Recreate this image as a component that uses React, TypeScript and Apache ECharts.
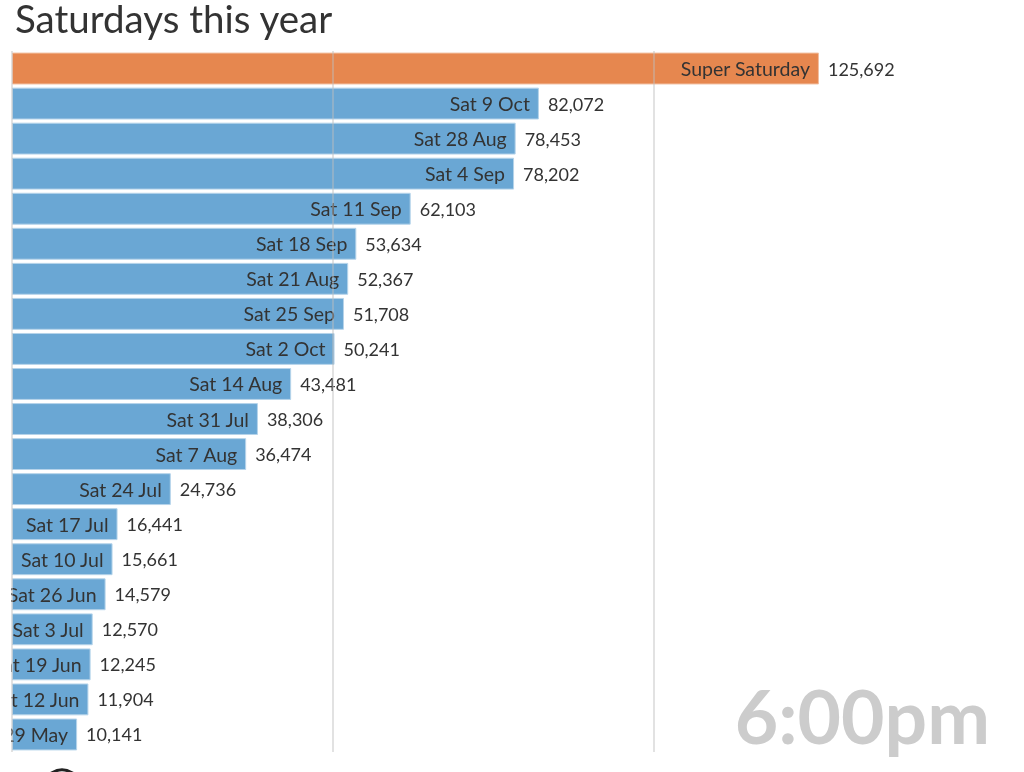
import React, { useEffect, useRef } from "react";
import * as echarts from "echarts";

const categories = [
  "Super Saturday",
  "Sat 9 Oct",
  "Sat 28 Aug",
  "Sat 4 Sep",
  "Sat 11 Sep",
  "Sat 18 Sep",
  "Sat 21 Aug",
  "Sat 25 Sep",
  "Sat 2 Oct",
  "Sat 14 Aug",
  "Sat 31 Jul",
  "Sat 7 Aug",
  "Sat 24 Jul",
  "Sat 17 Jul",
  "Sat 10 Jul",
  "Sat 26 Jun",
  "Sat 3 Jul",
  "Sat 19 Jun",
  "Sat 12 Jun",
  "Sat 29 May",
];

const values = [
  125692, 82072, 78453, 78202, 62103, 53634, 52367, 51708, 50241, 43481,
  38306, 36474, 24736, 16441, 15661, 14579, 12570, 12245, 11904, 10141,
];

const gridValues = [0, 50000, 100000];

const highlight = "Super Saturday";
const timeLabel = "6:00pm";

const FONT = "Lato, 'Noto Sans', sans-serif";

const App: React.FC = () => {
  const chartRef = useRef<HTMLDivElement>(null);

  useEffect(() => {
    if (!chartRef.current) return;
    const chart = echarts.init(chartRef.current, undefined, { renderer: "svg" });

    const barData = values.map((v, i) => ({
      value: v,
      itemStyle: {
        color: categories[i] === highlight ? "#E6874F" : "#6AA7D4",
        borderColor: categories[i] === highlight ? "#F2BFA0" : "#B6D4EA",
      },
    }));

    chart.setOption({
      animation: false,
      textStyle: { fontFamily: FONT },
      title: {
        text: "Saturdays this year",
        left: 10,
        top: -7,
        textStyle: { fontFamily: FONT, fontSize: 38.5, fontWeight: "normal", color: "#333" },
      },
      grid: { left: 12, top: 51, width: 963, bottom: 20, containLabel: false },
      xAxis: {
        type: "value",
        min: 0,
        max: 150000,
        interval: 50000,
        axisLabel: { show: false },
        axisLine: { show: false },
        axisTick: { show: false },
        splitLine: { show: false },
      },
      yAxis: {
        type: "category",
        data: categories,
        inverse: true,
        axisLabel: { show: false },
        axisLine: { show: false },
        axisTick: { show: false },
      },
      series: [
        {
          type: "bar",
          data: barData,
          barCategoryGap: "9%",
          itemStyle: { borderWidth: 1 },
          label: {
            show: true,
            position: "right",
            distance: 9,
            fontFamily: FONT,
            fontSize: 18,
            color: "#333",
            formatter: (p: any) => p.value.toLocaleString("en-US"),
          },
          markLine: {
            silent: true,
            symbol: "none",
            z: 10,
            label: { show: false },
            lineStyle: { color: "rgba(190,190,190,0.6)", width: 1.5, type: "solid" },
            data: gridValues.map((g) => ({ xAxis: g })),
          },
        },
        {
          type: "bar",
          data: values,
          barGap: "-100%",
          barCategoryGap: "9%",
          itemStyle: { color: "rgba(0,0,0,0)" },
          label: {
            show: true,
            position: "insideRight",
            distance: 9,
            fontFamily: FONT,
            fontSize: 19.5,
            color: "#333",
            formatter: (p: any) => p.name,
          },
        },
      ],
      graphic: [
        {
          type: "rect",
          left: 0,
          top: 45,
          shape: { width: 11, height: 715 },
          style: { fill: "#fff" },
          z: 100,
        },
        {
          type: "text",
          right: 34,
          top: 677,
          style: {
            text: timeLabel,
            font: `bold 75px ${FONT}`,
            fill: "#CCCCCC",
          },
          z: 100,
        },
        {
          type: "circle",
          shape: { cx: 62, cy: 790, r: 20 },
          style: { fill: "none", stroke: "#222", lineWidth: 3 },
          z: 100,
        },
      ],
    });

    return () => {
      chart.dispose();
    };
  }, []);

  return (
    <div
      ref={chartRef}
      style={{ position: "fixed", left: 0, top: 0, width: 1024, height: 772 }}
    />
  );
};

export default App;
